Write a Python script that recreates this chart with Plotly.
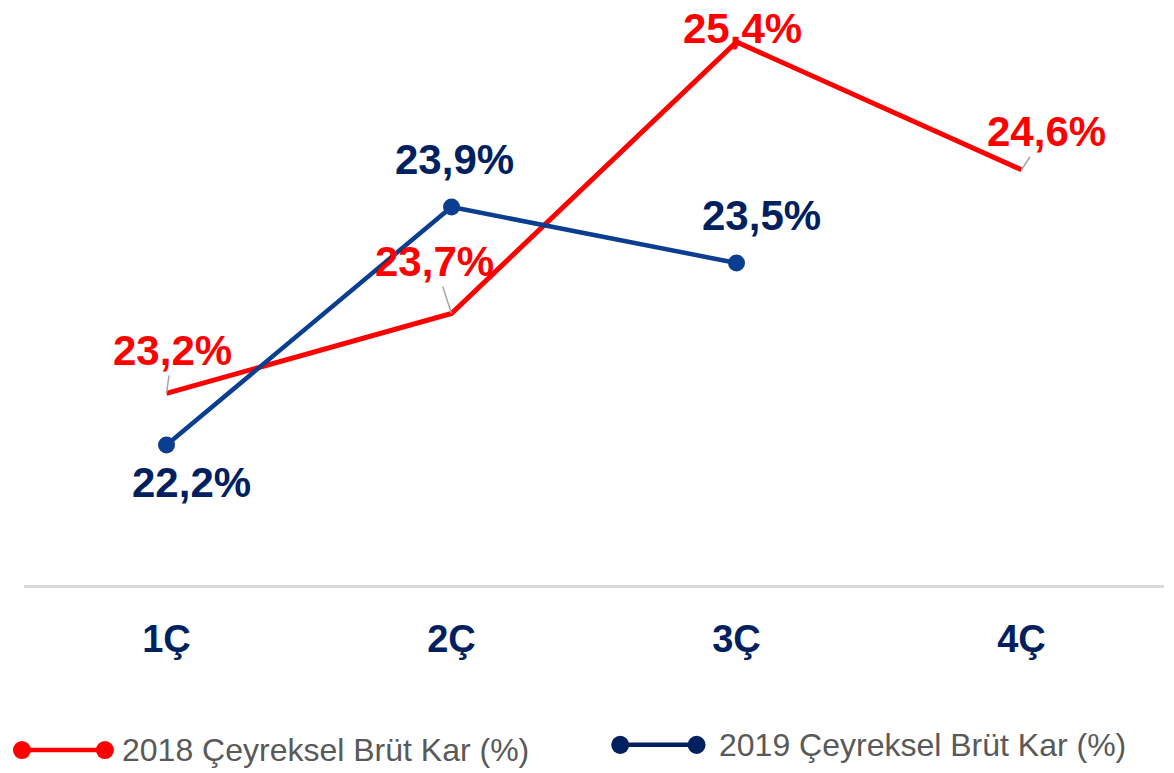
import plotly.graph_objects as go

quarters = ["1Ç", "2Ç", "3Ç", "4Ç"]
gross_2018 = [23.2, 23.7, 25.4, 24.6]
gross_2019 = [22.2, 23.9, 23.5]
labels_2018 = ["23,2%", "23,7%", "25,4%", "24,6%"]
labels_2019 = ["22,2%", "23,9%", "23,5%"]
name_2018 = "2018 Çeyreksel Brüt Kar (%)"
name_2019 = "2019 Çeyreksel Brüt Kar (%)"

RED = "#FF0000"
BLUE = "#0B3D91"
NAVY = "#002060"
FONT = "Liberation Sans, Arial, sans-serif"

fig = go.Figure()
fig.add_trace(go.Scatter(x=quarters, y=gross_2018, mode="lines", name=name_2018,
                         line=dict(color=RED, width=5), yaxis="y"))
fig.add_trace(go.Scatter(x=quarters[:len(gross_2019)], y=gross_2019, mode="lines+markers",
                         name=name_2019, line=dict(color=BLUE, width=4.5),
                         marker=dict(color=BLUE, size=17), yaxis="y2"))

# red labels: (ax, ay, showarrow)
red_off = [(6, -43, True), (-17, -52, True), (6, -13, False), (25, -38, True)]
for q, v, t, (ax, ay, arr) in zip(quarters, gross_2018, labels_2018, red_off):
    fig.add_annotation(x=q, y=v, xref="x", yref="y", text=t, showarrow=arr,
                       ax=ax, ay=ay, arrowhead=0, arrowwidth=1.5, arrowcolor="#A6A6A6",
                       standoff=0, startstandoff=0,
                       xshift=0 if arr else ax, yshift=0 if arr else -ay,
                       font=dict(family=FONT, size=42, color=RED, weight="bold"))

blue_off = [(25, -37), (3, 47), (25, 47)]
for q, v, t, (dx, dy) in zip(quarters, gross_2019, labels_2019, blue_off):
    fig.add_annotation(x=q, y=v, xref="x", yref="y2", text=t, showarrow=False,
                       xshift=dx, yshift=dy,
                       font=dict(family=FONT, size=42, color=NAVY, weight="bold"))

# manual legend (paper coords relative to plot area)
legend_items = [(name_2018, RED, -0.0018, 0.071, 0.084, -0.287),
                (name_2019, NAVY, 0.523, 0.590, 0.608, -0.278)]
rx, ry = 0.0079, 0.0157
for name, col, x_a, x_b, x_t, yy in legend_items:
    fig.add_shape(type="line", xref="paper", yref="paper", x0=x_a, x1=x_b, y0=yy, y1=yy,
                  line=dict(color=col, width=4.5))
    for xc in (x_a, x_b):
        fig.add_shape(type="circle", xref="paper", yref="paper",
                      x0=xc - rx, x1=xc + rx, y0=yy - ry, y1=yy + ry,
                      line=dict(color=col, width=0), fillcolor=col)
    fig.add_annotation(xref="paper", yref="paper", x=x_t, y=yy, text=name,
                       showarrow=False, xanchor="left", yanchor="middle",
                       font=dict(family=FONT, size=32, color="#595959"))

fig.update_layout(
    width=1174, height=773,
    margin=dict(l=16, r=18, t=2, b=196),
    paper_bgcolor="white", plot_bgcolor="white",
    showlegend=False,
    xaxis=dict(range=[-0.5, 3.5], showgrid=False, zeroline=False, showline=True,
               linecolor="#D9D9D9", linewidth=2.5, ticks="", ticklabelstandoff=19,
               tickfont=dict(family=FONT, size=38, color=NAVY, weight="bold")),
    yaxis=dict(range=[22.0, 25.6], visible=False, showgrid=False, zeroline=False),
    yaxis2=dict(range=[21.2, 25.307], overlaying="y", visible=False,
                showgrid=False, zeroline=False),
)

fig.write_html("out.html")
